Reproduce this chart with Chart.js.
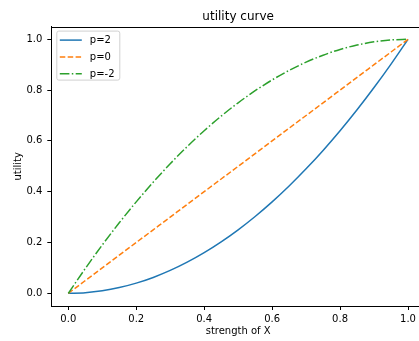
<!DOCTYPE html>
<html>
<head>
<meta charset="utf-8">
<script src="https://cdn.jsdelivr.net/npm/chart.js@4"></script>
<style>
  body { margin: 0; background: #fff; }
  #wrap { width: 419px; height: 341px; overflow: hidden; }
</style>
</head>
<body>
<div id="wrap"><canvas id="mycanvas" width="432" height="341"></canvas></div>
<script>
// strength of X values
var xVals = [0, 0.05, 0.1, 0.15, 0.2, 0.25, 0.3, 0.35, 0.4, 0.45, 0.5,
             0.55, 0.6, 0.65, 0.7, 0.75, 0.8, 0.85, 0.9, 0.95, 1.0];
// utility for each p
var utilP2 = [0, 0.0025, 0.01, 0.0225, 0.04, 0.0625, 0.09, 0.1225, 0.16, 0.2025, 0.25,
              0.3025, 0.36, 0.4225, 0.49, 0.5625, 0.64, 0.7225, 0.81, 0.9025, 1.0];
var utilP0 = [0, 0.05, 0.1, 0.15, 0.2, 0.25, 0.3, 0.35, 0.4, 0.45, 0.5,
              0.55, 0.6, 0.65, 0.7, 0.75, 0.8, 0.85, 0.9, 0.95, 1.0];
var utilPm2 = [0, 0.0975, 0.19, 0.2775, 0.36, 0.4375, 0.51, 0.5775, 0.64, 0.6975, 0.75,
               0.7975, 0.84, 0.8775, 0.91, 0.9375, 0.96, 0.9775, 0.99, 0.9975, 1.0];
var seriesLabels = ["p=2", "p=0", "p=-2"];
var xTicks = [0, 0.2, 0.4, 0.6, 0.8, 1.0];
var yTicks = [0, 0.2, 0.4, 0.6, 0.8, 1.0];

var FONT = "'DejaVu Sans', sans-serif";

function pts(ys) {
  var out = [];
  for (var i = 0; i < xVals.length; i++) out.push({x: xVals[i], y: ys[i]});
  return out;
}

// title, top/right spines and a matplotlib style legend
var mplExtras = {
  id: 'mplExtras',
  afterDraw: function(chart) {
    var ctx = chart.ctx;
    var a = chart.chartArea;
    ctx.save();
    ctx.strokeStyle = '#000';
    ctx.lineWidth = 1;
    ctx.strokeRect(Math.round(a.left) + 0.5, Math.round(a.top) + 0.5,
                   Math.round(a.right - a.left), Math.round(a.bottom - a.top));

    ctx.fillStyle = '#000';
    ctx.font = '12px ' + FONT;
    ctx.textAlign = 'center';
    ctx.textBaseline = 'alphabetic';
    ctx.fillText('utility curve', (a.left + a.right) / 2, 20);

    // legend
    var bx = a.left + 5.5, by = a.top + 4.5, bw = 63, bh = 49;
    ctx.fillStyle = 'rgba(255,255,255,0.8)';
    ctx.strokeStyle = '#d0d0d0';
    ctx.beginPath();
    ctx.roundRect(bx, by, bw, bh, 2);
    ctx.fill();
    ctx.stroke();
    ctx.font = '10px ' + FONT;
    ctx.textAlign = 'left';
    ctx.textBaseline = 'middle';
    chart.data.datasets.forEach(function(ds, i) {
      var yy = by + 9 + i * 16.8;
      ctx.strokeStyle = ds.borderColor;
      ctx.lineWidth = 1.5;
      ctx.setLineDash(ds.borderDash || []);
      ctx.beginPath();
      ctx.moveTo(bx + 3, yy);
      ctx.lineTo(bx + 25, yy);
      ctx.stroke();
      ctx.setLineDash([]);
      ctx.fillStyle = '#000';
      ctx.fillText(ds.label, bx + 33, yy + 0.5);
    });
    ctx.restore();
  }
};

var chartdata = {
  datasets: [
    {
      label: seriesLabels[0],
      data: pts(utilP2),
      borderColor: '#1f77b4',
      borderWidth: 1.5,
      order: 3
    },
    {
      label: seriesLabels[1],
      data: pts(utilP0),
      borderColor: '#ff7f0e',
      borderWidth: 1.5,
      borderDash: [5.5, 2.4],
      order: 2
    },
    {
      label: seriesLabels[2],
      data: pts(utilPm2),
      borderColor: '#2ca02c',
      borderWidth: 1.5,
      borderDash: [9.6, 2.4, 1.5, 2.4],
      order: 1
    }
  ]
};

var ctx = document.getElementById('mycanvas');

var LineGraph = new Chart(ctx, {
  type: 'line',
  data: chartdata,
  plugins: [mplExtras],
  options: {
    responsive: false,
    animation: false,
    devicePixelRatio: 1,
    layout: { padding: { top: 26.6, right: 7, left: 0, bottom: 0 } },
    elements: {
      point: { radius: 0, hoverRadius: 0 },
      line: { fill: false, cubicInterpolationMode: 'monotone' }
    },
    scales: {
      x: {
        type: 'linear',
        min: -0.05,
        max: 1.05,
        afterBuildTicks: function(scale) {
          scale.ticks = xTicks.map(function(v) { return {value: v}; });
        },
        afterFit: function(scale) { scale.height = 35; },
        border: { display: true, color: '#000', width: 1 },
        grid: { display: true, drawOnChartArea: false, drawTicks: true, tickLength: 4, color: '#000' },
        ticks: {
          padding: 3,
          maxRotation: 0,
          color: '#000',
          font: { family: FONT, size: 10 },
          callback: function(v) { return v.toFixed(1); }
        },
        title: {
          display: true,
          text: 'strength of X',
          color: '#000',
          font: { family: FONT, size: 10 },
          padding: { top: 0, bottom: 3.5 }
        }
      },
      y: {
        type: 'linear',
        min: -0.05,
        max: 1.05,
        afterBuildTicks: function(scale) {
          scale.ticks = yTicks.map(function(v) { return {value: v}; });
        },
        afterFit: function(scale) { scale.width = 51.3; },
        border: { display: true, color: '#000', width: 1 },
        grid: { display: true, drawOnChartArea: false, drawTicks: true, tickLength: 4, color: '#000' },
        ticks: {
          padding: 5,
          color: '#000',
          font: { family: FONT, size: 10 },
          callback: function(v) { return v.toFixed(1); }
        },
        title: {
          display: true,
          text: 'utility',
          color: '#000',
          font: { family: FONT, size: 10 },
          padding: { top: 12, bottom: 0 }
        }
      }
    },
    plugins: {
      title: { display: false },
      legend: { display: false },
      tooltip: { enabled: false }
    }
  }
});
</script>
</body>
</html>
